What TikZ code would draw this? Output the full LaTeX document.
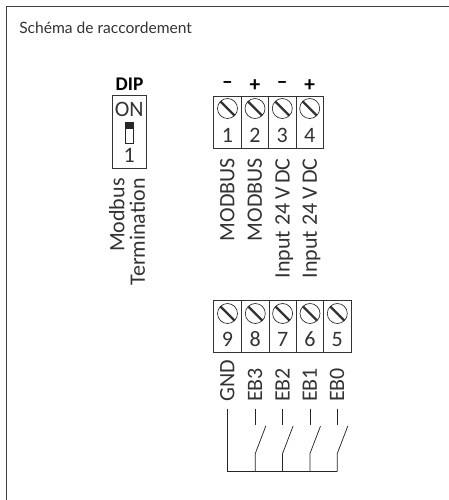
\documentclass[tikz,border=0pt]{standalone}
\usepackage{fontspec}
\setmainfont{Carlito}
\newfontfamily\titlefont{Lato}
\usetikzlibrary{positioning}
\newcommand{\labelsize}{\fontsize{16.5}{18}\selectfont}
\tikzstyle{cell} = [draw=black!80, line width=0.6pt, minimum width=20.5pt, minimum height=38.5pt, inner sep=0pt]
\tikzstyle{screw} = [draw=black!85, circle, line width=0.5pt, minimum size=15pt, inner sep=0pt,
	path picture={\draw[line width=1.7pt, black!80] (path picture bounding box.north west) -- (path picture bounding box.south east);}]
\tikzstyle{digit} = [inner sep=0pt, font=\labelsize, text=black!80, text height=10.4pt, text depth=0pt]
\tikzstyle{sign} = [inner sep=0pt, font=\fontsize{16}{18}\bfseries\selectfont]
\tikzstyle{endlabel} = [rotate=90, anchor=east, inner sep=0pt, font=\labelsize, text=black!80, text height=10.4pt, text depth=0pt]
\tikzstyle{startlabel} = [rotate=90, anchor=west, inner sep=0pt, font=\labelsize, text=black!80, text height=10.4pt, text depth=0pt]
\tikzstyle{wire} = [line width=0.55pt, black!85]

\begin{document}
\begin{tikzpicture}[x=0.75pt, y=-0.75pt]
	\useasboundingbox (0,0) rectangle (449,500);
	\fill[white] (0,0) rectangle (449,500);
	\coordinate (frametop) at (449,6.5);
	\coordinate (framecorner) at (6.5,6.5);
	\coordinate (framebottom) at (6.5,500);
	\draw[line width=0.9pt, black!75] (frametop) -- (framecorner) -- (framebottom);
	\node[inner sep=0pt, anchor=west, font=\titlefont\fontsize{11.7}{13}\selectfont, text=black!80] (title) at (19,28) {Schéma de raccordement};

	\node[cell, minimum width=25.5pt, minimum height=54.5pt] (dip) at (129.3,132) {};
	\node[inner sep=0pt, font=\fontsize{14.5}{16}\bfseries\selectfont] (diptitle) at (129.5,84) {DIP};
	\node[digit] (dipon) at (129.3,110) {ON};
	\node[digit] (dipone) at (129.3,155.5) {1};
	\node[draw=black!85, line width=0.5pt, minimum width=6pt, minimum height=16pt, inner sep=0pt] (dipswitch) at (129,132.7) {};
	\fill[black!85] (dipswitch.north west) rectangle ([yshift=-5.5pt]dipswitch.north east);
	\node[endlabel] (modbus) at (117.5,178) {Modbus};
	\node[endlabel] (termination) at (138,178) {Termination};

	\foreach \n/\x/\s in {1/227.5/--, 2/255/+, 3/282.3/--, 4/309.7/+} {
		\node[cell] (t\n) at (\x,122.3) {};
		\node[screw] (s\n) at (\x,108.5) {};
		\node[digit] (d\n) at (\x,136) {\n};
		\node[sign] (p\n) at (\x,85.5) {\s};
	}
	\node[endlabel] (l1) at (227.5,158) {MODBUS};
	\node[endlabel] (l2) at (255,158) {MODBUS};
	\node[endlabel] (l3) at (282.7,158) {Input\ 24\,V\,DC};
	\node[endlabel] (l4) at (310,158) {Input\ 24\,V\,DC};

	\foreach \n/\x/\m in {9/227.5/GND, 8/255.3/EB3, 7/282.6/EB2, 6/310/EB1, 5/337.3/EB0} {
		\node[cell] (t\n) at (\x,326.3) {};
		\node[screw] (s\n) at (\x,313.5) {};
		\node[digit] (d\n) at (\x,340) {\n};
		\node[startlabel] (l\n) at (\x,402) {\m};
		\coordinate (a\n) at (\x,408.5);
		\coordinate (b\n) at (\x,471.5);
	}
	\draw[wire] (a9) -- (b9) -- (b8) -- (b7) -- (b6) -- (b5);
	\foreach \n/\x in {8/255.3, 7/282.6, 6/310, 5/337.3} {
		\coordinate (c\n) at (\x,425);
		\coordinate (e\n) at (\x,453.5);
		\coordinate (f\n) at (\x+10.5,426);
		\draw[wire] (a\n) -- (c\n);
		\draw[wire] (b\n) -- (e\n) -- (f\n);
	}
\end{tikzpicture}
\end{document}
